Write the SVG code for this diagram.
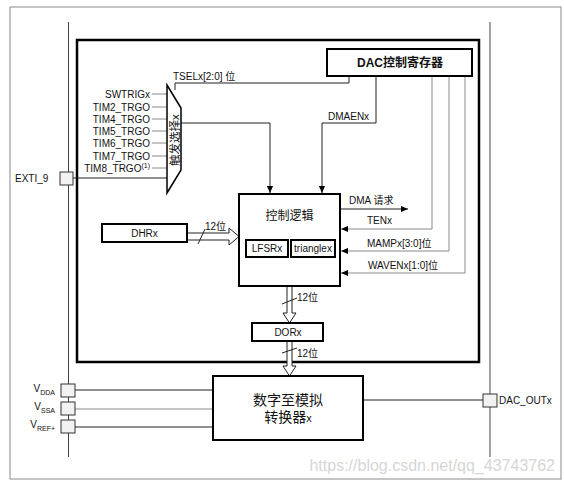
<svg xmlns="http://www.w3.org/2000/svg" width="564" height="483" viewBox="0 0 564 483">
<style>
text{font-family:"Liberation Sans","Noto Sans CJK SC",sans-serif;fill:#111}
.s{font-size:10px}
.m{text-anchor:middle}
.e{text-anchor:end}
.thin{fill:none;stroke:#222;stroke-width:1}
.gray{fill:none;stroke:#8a8a8a;stroke-width:1}
.box{fill:#fff;stroke:#000;stroke-width:2}
.pin{fill:#f2f2f2;stroke:#333;stroke-width:1}
.hollow{fill:#fff;stroke:#222;stroke-width:1}
</style>
<defs>
<marker id="ah" viewBox="0 0 8 8" refX="8" refY="4" markerWidth="7" markerHeight="7" markerUnits="userSpaceOnUse" orient="auto"><path d="M0,0.5 L8,4 L0,7.5 z" fill="#000"/></marker>
</defs>
<rect x="0" y="0" width="564" height="483" fill="#fff"/>
<rect x="10" y="7" width="551" height="472" fill="none" stroke="#8a8a8a" stroke-width="1"/>
<g id="rails">
<line x1="68.5" y1="22" x2="68.5" y2="457" stroke="#444" stroke-width="1"/>
<line x1="490" y1="22" x2="490" y2="457" stroke="#444" stroke-width="1"/>
</g>
<rect id="dac-block" x="77" y="40" width="402" height="322" fill="none" stroke="#000" stroke-width="2.5"/>

<g id="connectors">
<path class="thin" d="M175,90 V83 H349 V76"/>
<path class="thin" d="M376,76 V123 H322 V193" marker-end="url(#ah)"/>
<path class="thin" d="M181,123 H270 V193" marker-end="url(#ah)"/>
<path class="thin" d="M340,209 H408" marker-end="url(#ah)"/>
<path class="gray" d="M432,76 V229 H341" marker-end="url(#ah)"/>
<path class="gray" d="M449,76 V251 H341" marker-end="url(#ah)"/>
<path class="gray" d="M465,76 V273 H341" marker-end="url(#ah)"/>
<path class="thin" d="M73,178 H167"/>
<path class="gray" d="M152,94 H167 M152,107 H167 M152,119 H167 M152,131 H167 M152,143 H167 M152,156 H167 M152,168 H167"/>
<path class="thin" d="M75,390 H213"/>
<path class="gray" d="M75,409 H213"/>
<path class="thin" d="M75,427 H213"/>
<path class="thin" d="M363,400 H483"/>
<polygon class="hollow" points="187,233 229,233 229,228 239,236.5 229,245 229,240 187,240"/>
<line x1="198" y1="244" x2="205" y2="229" stroke="#222" stroke-width="1"/>
<text class="s" x="205" y="230">12位</text>
<polygon class="hollow" points="287,286 287,313 283,313 289.5,323 296,313 292,313 292,286"/>
<line x1="282" y1="304" x2="297" y2="298" stroke="#222" stroke-width="1"/>
<text class="s" x="297" y="301">12位</text>
<polygon class="hollow" points="287,341 287,366 283,366 289.5,376 296,366 292,366 292,341"/>
<line x1="282" y1="353" x2="297" y2="348" stroke="#222" stroke-width="1"/>
<text class="s" x="297" y="357">12位</text>
</g>

<g id="labels">
<text class="s" x="173" y="80">TSELx[2:0] 位</text>
<text class="s" x="328" y="120">DMAENx</text>
<text class="s" x="349" y="204">DMA 请求</text>
<text class="s" x="367" y="224">TENx</text>
<text class="s" x="367" y="247">MAMPx[3:0]位</text>
<text class="s" x="368" y="269">WAVENx[1:0]位</text>
</g>

<g id="register">
<rect class="box" x="327" y="49" width="145" height="27"/>
<text x="400" y="67" class="m" font-size="12" font-weight="bold">DAC控制寄存器</text>
</g>

<g id="mux">
<polygon points="167,85 181,108 181,170 167,193" fill="#fff" stroke="#000" stroke-width="1.5"/>
<text class="m" font-size="11.5" transform="translate(178.5,140) rotate(-90)">触发选择x</text>
</g>

<g id="inputs">
<text class="s e" x="150" y="97.5">SWTRIGx</text>
<text class="s e" x="150" y="110.5">TIM2_TRGO</text>
<text class="s e" x="150" y="122.5">TIM4_TRGO</text>
<text class="s e" x="150" y="134.5">TIM5_TRGO</text>
<text class="s e" x="150" y="146.5">TIM6_TRGO</text>
<text class="s e" x="150" y="159.5">TIM7_TRGO</text>
<text class="s e" x="150" y="171.5">TIM8_TRGO<tspan font-size="7" dy="-4">(1)</tspan></text>
</g>

<g id="exti">
<rect class="pin" x="60" y="172" width="13" height="13"/>
<text class="s" x="15" y="182">EXTI_9</text>
</g>

<g id="control-logic">
<rect class="box" x="239" y="194" width="101" height="92"/>
<text x="289.5" y="220" class="m" font-size="12">控制逻辑</text>
<rect class="box" x="246" y="240" width="42" height="17"/>
<text class="s m" x="267" y="252">LFSRx</text>
<rect class="box" x="291" y="240" width="44" height="17"/>
<text class="s m" x="313" y="252">trianglex</text>
</g>

<g id="dhr">
<rect class="box" x="102" y="224" width="85" height="18"/>
<text class="s m" x="144.5" y="237">DHRx</text>
</g>

<g id="dor">
<rect class="box" x="252" y="323" width="71" height="18"/>
<text class="s m" x="288" y="336">DORx</text>
</g>

<g id="converter">
<rect class="box" x="213" y="376" width="150" height="64"/>
<text x="288" y="405" class="m" font-size="14">数字至模拟</text>
<text x="288" y="422" class="m" font-size="14">转换器<tspan font-size="11">x</tspan></text>
</g>

<g id="power-pins">
<rect class="pin" x="61" y="384" width="14" height="13"/>
<rect class="pin" x="61" y="402" width="14" height="13"/>
<rect class="pin" x="61" y="420" width="14" height="13"/>
<text class="s e" x="55" y="392">V<tspan font-size="7" dy="3">DDA</tspan></text>
<text class="s e" x="55" y="410">V<tspan font-size="7" dy="3">SSA</tspan></text>
<text class="s e" x="55" y="428">V<tspan font-size="7" dy="3">REF+</tspan></text>
</g>

<g id="dac-out">
<rect class="pin" x="483" y="394" width="14" height="13"/>
<text class="s" x="499" y="404">DAC_OUTx</text>
</g>

<text x="555" y="471" text-anchor="end" font-size="16" style="fill:#d6d6d6">https://blog.csdn.net/qq_43743762</text>
</svg>
